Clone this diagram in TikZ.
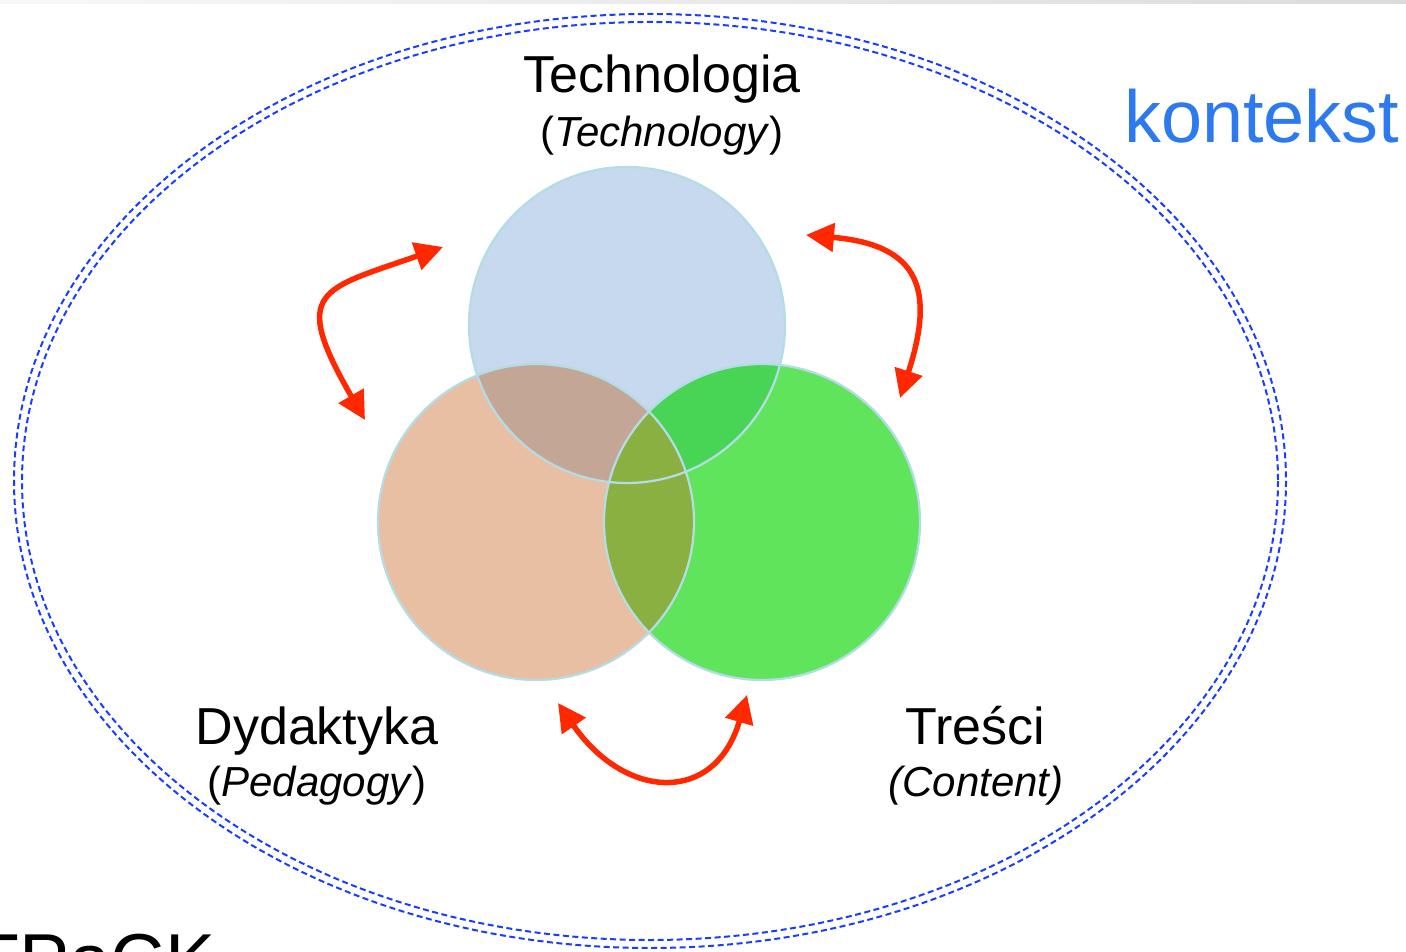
\documentclass[tikz,border=0pt]{standalone}
\usepackage{tikz}
\usepackage{xcolor}
\usepackage{fontspec}
\setmainfont{Liberation Sans}
\usetikzlibrary{arrows.meta}
\definecolor{techblue}{RGB}{198,217,238}
\definecolor{pedorange}{RGB}{233,191,163}
\definecolor{contgreen}{RGB}{96,228,92}
\definecolor{tpmix}{RGB}{196,166,150}
\definecolor{tcmix}{RGB}{72,212,85}
\definecolor{pcmix}{RGB}{137,176,64}
\definecolor{rimcyan}{RGB}{180,220,228}
\definecolor{ctxblue}{RGB}{25,60,255}
\definecolor{ctxtext}{RGB}{45,122,240}
\definecolor{arrowred}{RGB}{255,40,0}

\begin{document}
\begin{tikzpicture}[x=0.02cm,y=-0.02cm,
  ctxline/.style={ctxblue, line width=0.04cm, dash pattern=on 0.12cm off 0.07cm},
  rim/.style={rimcyan, line width=0.045cm},
  link/.style={arrowred, line width=0.11cm, {Triangle[length=0.56cm,width=0.56cm]}-{Triangle[length=0.56cm,width=0.56cm]}},
  lbl/.style={font=\fontsize{29.6pt}{34pt}\selectfont, anchor=base},
  sublbl/.style={font=\fontsize{23.9pt}{28pt}\selectfont, anchor=base}]
\tikzstyle{every node}+=[inner sep=0pt]
\useasboundingbox (0,0) rectangle (1406,952);
\clip (0,0) rectangle (1406,952);
\shade[left color=gray!6, right color=gray!28] (0,0) rectangle (1406,4);
\draw[ctxline] (650,481) ellipse (636 and 467);
\draw[ctxline] (650,481) ellipse (628 and 459);
\coordinate (T) at (627,325);
\coordinate (P) at (536,522);
\coordinate (C) at (762,522);
\fill[techblue] (T) circle (158);
\fill[pedorange] (P) circle (158);
\fill[contgreen] (C) circle (158);
\begin{scope}
\clip (T) circle (158);
\fill[tpmix] (P) circle (158);
\fill[tcmix] (C) circle (158);
\end{scope}
\begin{scope}
\clip (P) circle (158);
\fill[pcmix] (C) circle (158);
\end{scope}
\draw[rim] (T) circle (158);
\draw[rim] (P) circle (158);
\draw[rim] (C) circle (158);
\node[lbl] (techlbl) at (662,93) {Technologia};
\node[sublbl] (techsub) at (662,147) {(\textit{Technology})};
\node[lbl] (pedlbl) at (317,744) {Dydaktyka};
\node[sublbl] (pedsub) at (317,796) {(\textit{Pedagogy})};
\node[lbl] (contlbl) at (975,744) {Treści};
\node[sublbl] (contsub) at (976,796) {\textit{(Content)}};
\node[anchor=base west, ctxtext, font=\fontsize{42pt}{48pt}\selectfont] (ctxlbl) at (1124,143) {kontekst};
\node[anchor=base west, font=\fontsize{42.7pt}{48pt}\selectfont] (tpack) at (-27,986) {TPaCK};
\coordinate (tpa) at (365,420);
\coordinate (tpb) at (443,247);
\coordinate (tca) at (806,235);
\coordinate (tcb) at (900,398);
\coordinate (pca) at (558,703);
\coordinate (pcb) at (747,695);
\draw[link] (tpa) .. controls (290,290) and (320,290) .. (tpb);
\draw[link] (tca) .. controls (920,245) and (935,290) .. (tcb);
\draw[link] (pca) .. controls (625,800) and (715,805) .. (pcb);
\end{tikzpicture}
\end{document}
